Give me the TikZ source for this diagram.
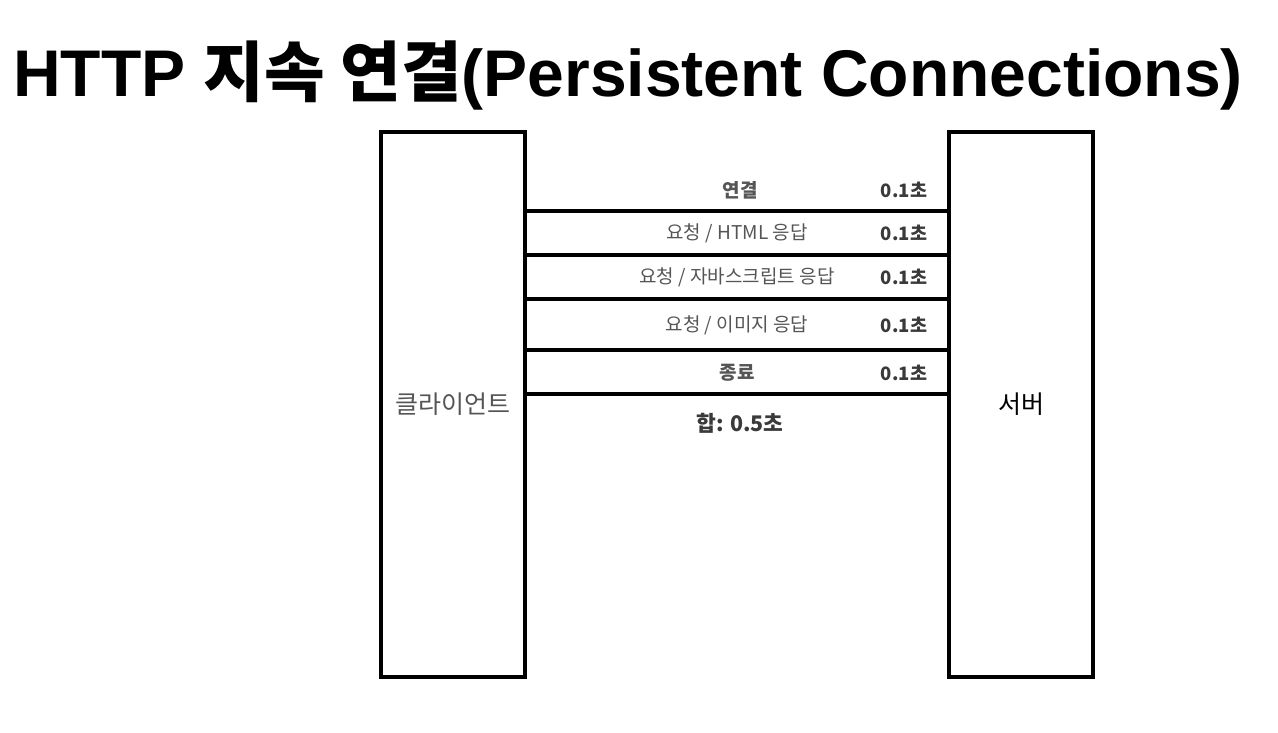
\documentclass[tikz,border=0pt]{standalone}
\usepackage{fontspec}
\setmainfont{Liberation Sans}
\newfontfamily\kr{Noto Sans CJK KR}
\definecolor{labelgray}{HTML}{555555}
\definecolor{timegray}{HTML}{3A3A3A}
\begin{document}
\begin{tikzpicture}[x=1pt,y=-1pt]

    \tikzset{
      host/.style={
        draw,
        line width=4pt,
        minimum width=144pt,
        minimum height=545pt,
        inner sep=0pt,
      },
      link/.style={
        line width=4pt,
      },
      step label/.style={
        color={labelgray},
        font=\kr\fontsize{19}{19}\selectfont,
      },
      time label/.style={
        color={timegray},
        font=\kr\bfseries\fontsize{18.5}{18.5}\selectfont,
      },
    }
    \useasboundingbox (0,0) rectangle (1278,733);
	\draw [color={black}] (13,97) node[anchor = base west,scale=1, rotate = 0, inner sep=0pt] (title) {\fontsize{66}{66}\selectfont\bfseries HTTP {\kr 지속 연결}(Persistent Connections)};
	\node[host] (client) at (453,404.5) {};
	\node[host] (server) at (1021,404.5) {};
	\draw [color={labelgray}] (453,404) node[anchor = center,scale=1, rotate = 0] (clientname) {\kr\fontsize{25}{25}\selectfont 클라이언트};
	\draw [color={black}] (1021,404) node[anchor = center,scale=1, rotate = 0] (servername) {\kr\fontsize{25}{25}\selectfont 서버};

	\coordinate (y1) at (0,211);
	\coordinate (y2) at (0,255);
	\coordinate (y3) at (0,299);
	\coordinate (y4) at (0,350);
	\coordinate (y5) at (0,394);
	\foreach \i in {1,...,5} {
	\draw[link] (client.east |- y\i) -- (server.west |- y\i);
	}

	\draw (740,190) node[step label, anchor = center, font=\kr\bfseries\fontsize{19}{19}\selectfont] (connect) {연결};
	\draw (737,233) node[step label, anchor = center] (html) {요청 / HTML 응답};
	\draw (737,277) node[step label, anchor = center] (script) {요청 / 자바스크립트 응답};
	\draw (737,325) node[step label, anchor = center] (image) {요청 / 이미지 응답};
	\draw (737,373) node[step label, anchor = center, font=\kr\bfseries\fontsize{19}{19}\selectfont] (close) {종료};
	\foreach \name/\y in {t1/190,t2/233,t3/277,t4/325,t5/373} {
	\draw (904,\y) node[time label, anchor = center] (\name) {0.1초};
	}
	\draw [color={timegray}] (740,423) node[anchor = center,scale=1, rotate = 0] (total) {\kr\bfseries\fontsize{21.5}{21.5}\selectfont 합: 0.5초};

\end{tikzpicture}
\end{document}
